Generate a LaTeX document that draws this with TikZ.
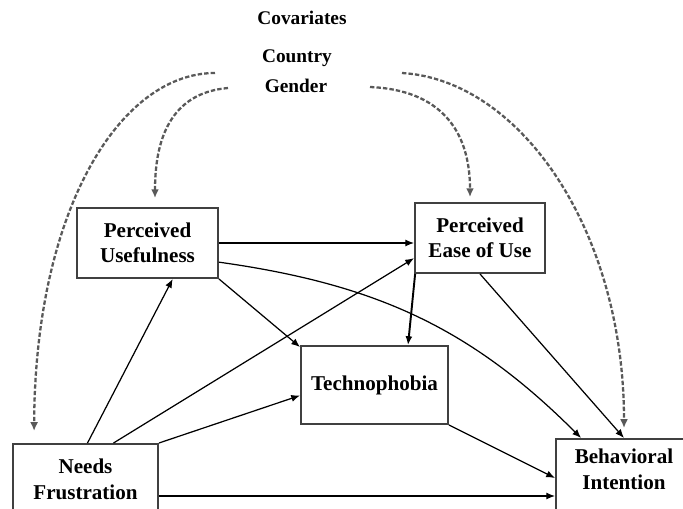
\documentclass[tikz,border=0pt]{standalone}
\usepackage{fontspec}
\setmainfont{Liberation Serif}
\usetikzlibrary{arrows.meta,calc}

\begin{document}
\begin{tikzpicture}[x=0.02cm, y=-0.02cm,
    box/.style={draw=black!75, line width=1.1pt, fill=white, align=center, inner sep=0pt,
      font=\fontsize{12}{14.5}\selectfont\bfseries},
    lab/.style={font=\fontsize{11}{13}\selectfont\bfseries},
    arr/.style={-{Latex[length=5pt,width=4pt]}, line width=0.7pt},
    covarr/.style={-{Latex[length=5pt,width=4.5pt]}, line width=1.3pt, draw=black!65,
      dash pattern=on 2.5pt off 1.2pt}]
  \useasboundingbox (0,0) rectangle (683,508);

  % covariates
  \node[lab] (covar) at (302,18) {Covariates};
  \node[lab] (country) at (297,58) {Country};
  \node[lab] (gender) at (296,86) {Gender};
  \coordinate (covL) at (215,73);
  \coordinate (genL) at (228,88);
  \coordinate (genR) at (370,87);
  \coordinate (covR) at (402,73);

  % boxes
  \node[box, minimum width=2.82cm, minimum height=1.4cm] (pu) at (147.5,243) {Perceived\\Usefulness};
  \node[box, minimum width=2.6cm, minimum height=1.4cm] (peu) at (480,238) {Perceived\\Ease of Use};
  \node[box, minimum width=2.94cm, minimum height=1.56cm] (tech) at (374.5,385) {Technophobia};
  \node[box, anchor=north, minimum width=2.9cm, inner ysep=0.3cm] (nf) at (85.5,443) {Needs\\Frustration};
  \node[box, anchor=north, minimum width=2.72cm, inner ysep=0.2cm] (bi) at (624,438)
    {Behavioral\\Intention\rule[-14pt]{0pt}{14pt}};

  % dashed covariate paths
  \draw[covarr, shorten >=0.24cm] (covL) .. controls (120,73) and (35,210) .. ($(nf.north west)+(22,0)$);
  \draw[covarr, shorten >=0.18cm] (genL) .. controls (170,93) and (155,140) .. ($(pu.north)+(7.5,0)$);
  \draw[covarr, shorten >=0.1cm] (genR) .. controls (440,90) and (470,130) .. ($(peu.north)+(-10,0)$);
  \draw[covarr, shorten >=0.2cm] (covR) .. controls (520,80) and (624,230) .. (bi.north);

  % paths
  \draw[arr] (pu.east) -- (pu.east -| peu.west);
  \draw[arr] (pu.-15) to[out=-8, in=135] ($(bi.north west)+(26,0)$);
  \draw[arr] (pu.south east) -- (tech.153);
  \draw[arr, line width=1.1pt] (peu.209) -- (tech.50);
  \draw[arr] (peu.south) -- (bi.north);
  \draw[arr] ($(nf.north)+(2,0)$) -- (pu.-55);
  \draw[arr] ($(nf.north)+(28,0)$) -- (peu.197);
  \draw[arr] (nf.north east) -- (tech.188);
  \draw[arr] (tech.south east) -- ($(bi.north west)+(0,40)$);
  \draw[arr] ($(nf.north east)+(0,53)$) -- ($(bi.north west)+(0,58)$);
\end{tikzpicture}
\end{document}
